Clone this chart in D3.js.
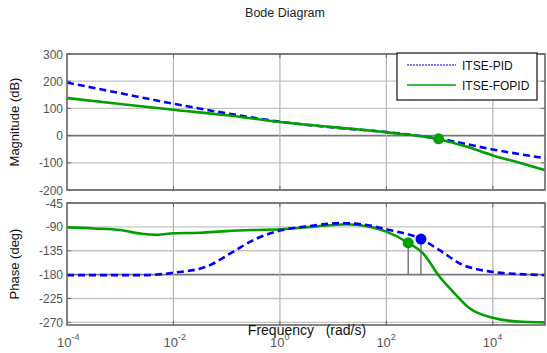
<!DOCTYPE html>
<html><head><meta charset="utf-8">
<script src="https://cdn.jsdelivr.net/npm/d3@7"></script>
<style>body{margin:0;background:#fff}svg{display:block;font-family:"Liberation Sans",Arial,sans-serif}</style>
</head><body><svg id="c" width="547" height="353"></svg>
<script>
// log10(frequency) samples
const logF = [-4,-3,-2,-1,0,1,2,3,4,5];
const magPID = [195,156,117,82,51,30,13,-12,-51,-84];
const logFmagFO = [-4,-3,-2,-1,0,1,2,3,3.5,4,4.5,5];
const magFOPID = [138,116,95,75,50,31,12,-14,-40,-73,-100,-128];
const logFphPID = [-4,-3,-2.57,-2,-1.38,-0.88,-0.5,0,0.6,1.13,1.6,2,2.65,3,3.38,4,4.5,5];
const phPID = [-181,-181,-181,-176.5,-165,-137,-115,-97,-88,-83,-86,-94.6,-113,-134,-159,-175,-179,-181];
const logFphFO = [-4,-3.5,-3,-2.6,-2.3,-2,-1.5,-1,-0.5,0,0.6,1.25,1.7,2,2.41,2.69,3,3.25,3.57,3.94,4.56,5];
const phFOPID = [-91,-93,-96,-103,-105,-102,-101,-98,-96,-94.6,-90,-85,-90,-99,-120,-140,-184,-212,-244,-260,-269,-270];
const magTicks = [300,200,100,0,-100,-200];
const phTicks = [-45,-90,-135,-180,-225,-270];
const xTicks = [-4,-2,0,2,4];
const legendLabels = ["ITSE-PID","ITSE-FOPID"];
const markerMag = {lf:2.98, v:-12};
const markerPh = [{lf:2.41, v:-120, c:"#00a000"},{lf:2.65, v:-113, c:"#0000ff"}];

const svg = d3.select("#c");
const L=67, R=545;
const x = d3.scaleLinear().domain([-4, 4.98]).range([L, R]);
const yM = d3.scaleLinear().domain([-200,300]).range([190,54]);
const yP = d3.scaleLinear().domain([-275,-45]).range([325,203]);
const blue="#0000ff", green="#00a000";

svg.append("text").attr("x",285).attr("y",17).attr("text-anchor","middle")
  .attr("font-size",12.5).attr("fill","#222").text("Bode Diagram");

function panel(y, ticks, dark, top, bot){
  const g = svg.append("g");
  ticks.forEach(t=>{
    g.append("line").attr("x1",L).attr("x2",R).attr("y1",y(t)).attr("y2",y(t))
      .attr("stroke", t===dark ? "#777" : "#c4c4c4").attr("stroke-width", t===dark?1.6:1.3);
  });
  xTicks.slice(1).forEach(t=>{
    g.append("line").attr("x1",x(t)).attr("x2",x(t)).attr("y1",top).attr("y2",bot)
      .attr("stroke","#b4b4b4").attr("stroke-width",1.2);
    g.append("line").attr("x1",x(t)).attr("x2",x(t)).attr("y1",top).attr("y2",top+4).attr("stroke","#666");
    g.append("line").attr("x1",x(t)).attr("x2",x(t)).attr("y1",bot).attr("y2",bot-4).attr("stroke","#666");
  });
  ticks.forEach(t=>{
    g.append("line").attr("x1",R).attr("x2",R-4).attr("y1",y(t)).attr("y2",y(t)).attr("stroke","#666");
    g.append("line").attr("x1",L).attr("x2",L+4).attr("y1",y(t)).attr("y2",y(t)).attr("stroke","#666");
    g.append("text").attr("x",L-4).attr("y",y(t)+4.5).attr("text-anchor","end")
      .attr("font-size",12).attr("fill","#555").text(t);
  });
  return g;
}
panel(yM, magTicks, 0, 54, 190);
panel(yP, phTicks, -180, 203, 325);

svg.append("clipPath").attr("id","cm").append("rect").attr("x",L).attr("y",54).attr("width",R-L).attr("height",136);
svg.append("clipPath").attr("id","cp").append("rect").attr("x",L).attr("y",203).attr("width",R-L).attr("height",122);

function curve(xs, ys, y, color, dashed, clip){
  const line = d3.line().x(d=>x(d[0])).y(d=>y(d[1])).curve(d3.curveMonotoneX);
  svg.append("path").datum(xs.map((v,i)=>[v,ys[i]])).attr("d",line)
    .attr("fill","none").attr("stroke",color).attr("stroke-width",2.6)
    .attr("stroke-dasharray", dashed ? "7,4" : null).attr("clip-path","url(#"+clip+")");
}
curve(logF, magPID, yM, blue, true, "cm");
curve(logFmagFO, magFOPID, yM, green, false, "cm");
curve(logFphFO, phFOPID, yP, green, false, "cp");
curve(logFphPID, phPID, yP, blue, true, "cp");

svg.append("circle").attr("cx",x(markerMag.lf)).attr("cy",yM(markerMag.v)).attr("r",5.5).attr("fill",green);
markerPh.forEach(m=>{
  svg.append("line").attr("x1",x(m.lf)).attr("x2",x(m.lf)).attr("y1",yP(m.v)).attr("y2",yP(-180))
    .attr("stroke","#666").attr("stroke-width",1.3);
});
markerPh.forEach(m=>{
  svg.append("circle").attr("cx",x(m.lf)).attr("cy",yP(m.v)).attr("r",5.5).attr("fill",m.c);
});

[[54,190],[203,325]].forEach(([t,b])=>{
  svg.append("rect").attr("x",L).attr("y",t).attr("width",R-L).attr("height",b-t)
    .attr("fill","none").attr("stroke","#666").attr("stroke-width",1.6);
});

xTicks.forEach(t=>{
  const tx = svg.append("text").attr("x",x(t)-10).attr("y",347).attr("font-size",13).attr("fill","#555");
  tx.append("tspan").text("10");
  tx.append("tspan").attr("dy",-7).attr("font-size",9).text(t);
});
svg.append("text").attr("x",307).attr("y",335).attr("text-anchor","middle").attr("font-size",14)
  .attr("fill","#111").attr("xml:space","preserve").text("Frequency   (rad/s)");

svg.append("text").attr("transform","translate(19,122) rotate(-90)").attr("text-anchor","middle")
  .attr("font-size",13).attr("fill","#111").text("Magnitude (dB)");
svg.append("text").attr("transform","translate(19,264) rotate(-90)").attr("text-anchor","middle")
  .attr("font-size",13).attr("fill","#111").text("Phase (deg)");

const lg = svg.append("g");
lg.append("rect").attr("x",397).attr("y",53).attr("width",140).attr("height",47)
  .attr("fill","#fff").attr("stroke","#111").attr("stroke-width",1.2);
[blue, green].forEach((c,i)=>{
  const yy = 65 + i*20;
  lg.append("line").attr("x1",407).attr("x2",456).attr("y1",yy).attr("y2",yy)
    .attr("stroke",c).attr("stroke-width", i===0?1:1.3).attr("stroke-dasharray", i===0?"2,1":null);
  lg.append("text").attr("x",462).attr("y",yy+4.5).attr("font-size",12).attr("fill","#111").text(legendLabels[i]);
});
</script></body></html>
